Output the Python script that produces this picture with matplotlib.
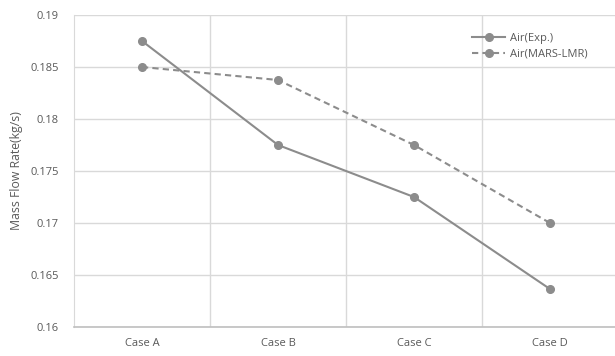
import numpy as np
import matplotlib
matplotlib.use("Agg")
import matplotlib.pyplot as plt

cases = ["Case A", "Case B", "Case C", "Case D"]
air_exp = [0.1875, 0.1775, 0.1725, 0.16365]
air_mars = [0.1850, 0.18375, 0.1775, 0.1700]
y_ticks = [0.16, 0.165, 0.17, 0.175, 0.18, 0.185, 0.19]
y_labels = ["0.16", "0.165", "0.17", "0.175", "0.18", "0.185", "0.19"]

plt.rcParams["font.family"] = ["Open Sans", "DejaVu Sans"]
TXT = "#595959"
GRID = "#d9d9d9"
LINE = "#8c8c8c"

fig = plt.figure(figsize=(6.15, 3.56), dpi=100)
ax = fig.add_axes([74 / 615, 29 / 356, 544 / 615, 312 / 356])

x = np.arange(len(cases))
ax.plot(x, air_exp, color=LINE, lw=1.5, marker="o", ms=5.5, label="Air(Exp.)")
ax.plot(x, air_mars, color=LINE, lw=1.5, ls=(0, (3, 2)), marker="o", ms=5.5,
        label="Air(MARS-LMR)")

ax.set_xlim(-0.5, 3.5)
ax.set_ylim(0.16, 0.19)
ax.set_yticks(y_ticks)
ax.set_yticklabels(y_labels)
ax.set_xticks(x)
ax.set_xticklabels(cases)
ax.set_xticks([0.5, 1.5, 2.5], minor=True)

ax.grid(axis="y", color=GRID, lw=1)
ax.grid(axis="x", which="minor", color=GRID, lw=1)
ax.set_axisbelow(True)

for s in ["top", "right"]:
    ax.spines[s].set_visible(False)
ax.spines["left"].set_color(GRID)
ax.spines["bottom"].set_color("#bfbfbf")
ax.spines["bottom"].set_linewidth(1.2)

ax.tick_params(axis="both", which="both", length=0, colors=TXT, labelsize=8)
ax.tick_params(axis="y", pad=11)
ax.tick_params(axis="x", pad=8)

ax.set_ylabel("Mass Flow Rate(kg/s)", color=TXT, fontsize=8.8, labelpad=5)

leg = ax.legend(loc="upper left", bbox_to_anchor=(0.713, 0.975), frameon=False,
                fontsize=8, labelcolor=TXT, handlelength=3.0, handletextpad=0.4,
                labelspacing=0.45)

fig.savefig("out.png", dpi=100)
